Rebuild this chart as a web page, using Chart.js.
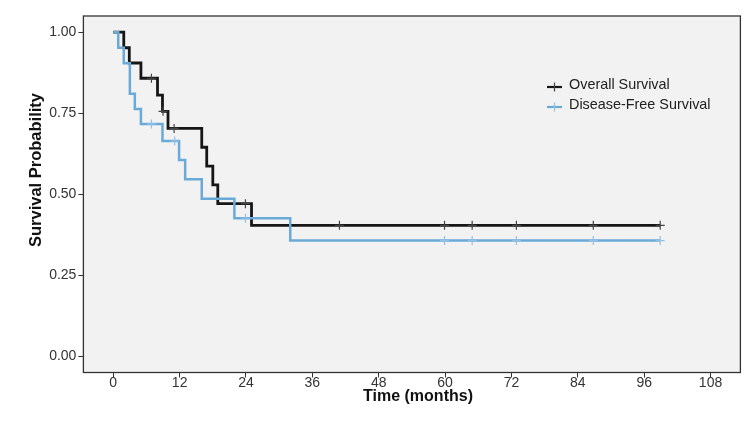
<!DOCTYPE html>
<html>
<head>
<meta charset="utf-8">
<script src="https://cdn.jsdelivr.net/npm/chart.js@4.4.1/dist/chart.umd.min.js"></script>
<style>
  html, body { margin: 0; padding: 0; background: #fff; }
  #wrap { width: 750px; height: 425px; }
</style>
</head>
<body>
<div id="wrap"><canvas id="km" width="750" height="425"></canvas></div>
<script>
// Kaplan-Meier steps: time (months) where the curve drops, and the new level
const osTimes = [0, 1.9, 2.9, 5.0, 8.0, 8.9, 9.9, 16.0, 16.9, 18.0, 18.9, 25.0, 98.9];
const osSurv  = [1, 0.952, 0.905, 0.858, 0.806, 0.756, 0.703, 0.645, 0.587, 0.529, 0.471, 0.404, 0.404];
const osCensor = [6.9, 9.0, 11.0, 23.9, 40.9, 59.9, 64.9, 72.9, 86.8, 98.9];

const dfsTimes = [0, 0.9, 1.9, 3.0, 3.9, 5.0, 8.9, 11.9, 13.0, 16.0, 21.9, 32.0, 98.9];
const dfsSurv  = [1, 0.952, 0.904, 0.810, 0.763, 0.717, 0.664, 0.606, 0.546, 0.486, 0.426, 0.357, 0.357];
const dfsCensor = [6.9, 11.1, 23.9, 59.9, 64.9, 72.9, 86.8, 98.9];

const xTicks = [0, 12, 24, 36, 48, 60, 72, 84, 96, 108];
const yTicks = [0, 0.25, 0.5, 0.75, 1];

const OS_COLOR = '#161616';
const DFS_COLOR = '#6aaad8';
const FONT = '"Liberation Sans", Arial, sans-serif';

// survival level in force at time t (last drop at or before t)
function levelAt(times, surv, t) {
  let v = surv[0];
  times.forEach((tt, i) => { if (tt <= t) v = surv[i]; });
  return v;
}

const steps = (times, surv) => times.map((t, i) => ({ x: t, y: surv[i] }));
const marks = (cens, times, surv) => cens.map(t => ({ x: t, y: levelAt(times, surv, t) }));

const legendItems = [
  { label: 'Overall Survival', color: OS_COLOR, tick: '#444' },
  { label: 'Disease-Free Survival', color: DFS_COLOR, tick: '#92c1e6' },
];

const panelPlugin = {
  id: 'panel',
  beforeDraw(chart) {
    const { ctx, chartArea: a } = chart;
    ctx.save();
    ctx.fillStyle = '#f2f2f2';
    ctx.fillRect(a.left, a.top, a.right - a.left, a.bottom - a.top);
    ctx.restore();
  },
  afterDraw(chart) {
    const { ctx, chartArea: a } = chart;
    ctx.save();
    ctx.strokeStyle = '#333';
    ctx.lineWidth = 1.3;
    ctx.strokeRect(a.left, a.top, a.right - a.left, a.bottom - a.top);

    // axis titles sit a little off the panel centre in the original
    ctx.fillStyle = '#111';
    ctx.font = `bold 16px ${FONT}`;
    ctx.textAlign = 'center';
    ctx.textBaseline = 'middle';
    ctx.fillText('Time (months)', 418, 397);

    ctx.save();
    ctx.translate(36, 170);
    ctx.rotate(-Math.PI / 2);
    ctx.font = `bold 16.5px ${FONT}`;
    ctx.fillText('Survival Probability', 0, 0);
    ctx.restore();

    // legend inside the panel, top right
    legendItems.forEach((it, i) => {
      const y = 85 + i * 20;
      ctx.strokeStyle = it.color;
      ctx.lineWidth = 2.2;
      ctx.beginPath();
      ctx.moveTo(547, y + 2); ctx.lineTo(562, y + 2);
      ctx.stroke();
      ctx.lineWidth = 1.2;
      ctx.strokeStyle = it.tick;
      ctx.beginPath();
      ctx.moveTo(554.5, y + 2 - 4.5); ctx.lineTo(554.5, y + 2 + 4.5);
      ctx.stroke();
      ctx.fillStyle = '#222';
      ctx.font = `14.4px ${FONT}`;
      ctx.textBaseline = 'middle';
      ctx.textAlign = 'left';
      ctx.fillText(it.label, 569, y);
    });
    ctx.restore();
  },
};

new Chart(document.getElementById('km'), {
  type: 'line',
  data: {
    datasets: [
      { type: 'scatter', label: 'os-censor', data: marks(osCensor, osTimes, osSurv), pointStyle: 'cross', pointRadius: 4.5, borderColor: '#444', borderWidth: 1.2, showLine: false, order: 0 },
      { type: 'scatter', label: 'dfs-censor', data: marks(dfsCensor, dfsTimes, dfsSurv), pointStyle: 'cross', pointRadius: 4.5, borderColor: '#92c1e6', borderWidth: 1.2, showLine: false, order: 0 },
      { label: 'Disease-Free Survival', data: steps(dfsTimes, dfsSurv), stepped: true, borderColor: DFS_COLOR, borderWidth: 2.5, pointRadius: 0, fill: false, order: 1 },
      { label: 'Overall Survival', data: steps(osTimes, osSurv), stepped: true, borderColor: OS_COLOR, borderWidth: 2.8, pointRadius: 0, fill: false, order: 2 },
    ],
  },
  options: {
    responsive: false,
    animation: false,
    devicePixelRatio: 1,
    layout: { padding: { top: 16, right: 9.6, left: 0, bottom: 0 } },
    plugins: { legend: { display: false }, tooltip: { enabled: false } },
    scales: {
      x: {
        type: 'linear', min: -5.4, max: 113.4,
        afterBuildTicks: sc => { sc.ticks = xTicks.map(v => ({ value: v })); },
        afterFit: sc => { sc.height = 52.5; },
        ticks: { color: '#333', font: { family: FONT, size: 14 }, padding: -3, maxRotation: 0, autoSkip: false },
        grid: { drawOnChartArea: false, tickLength: 5, color: '#333', tickWidth: 1 },
        border: { display: false },
        title: { display: false },
      },
      y: {
        min: -0.05, max: 1.05,
        afterBuildTicks: sc => { sc.ticks = yTicks.map(v => ({ value: v })); },
        afterFit: sc => { sc.width = 83.4; },
        ticks: { color: '#333', font: { family: FONT, size: 14 }, padding: 2, callback: v => v.toFixed(2) },
        grid: { drawOnChartArea: false, tickLength: 5, color: '#333', tickWidth: 1 },
        border: { display: false },
        title: { display: false },
      },
    },
  },
  plugins: [panelPlugin],
});
</script>
</body>
</html>
